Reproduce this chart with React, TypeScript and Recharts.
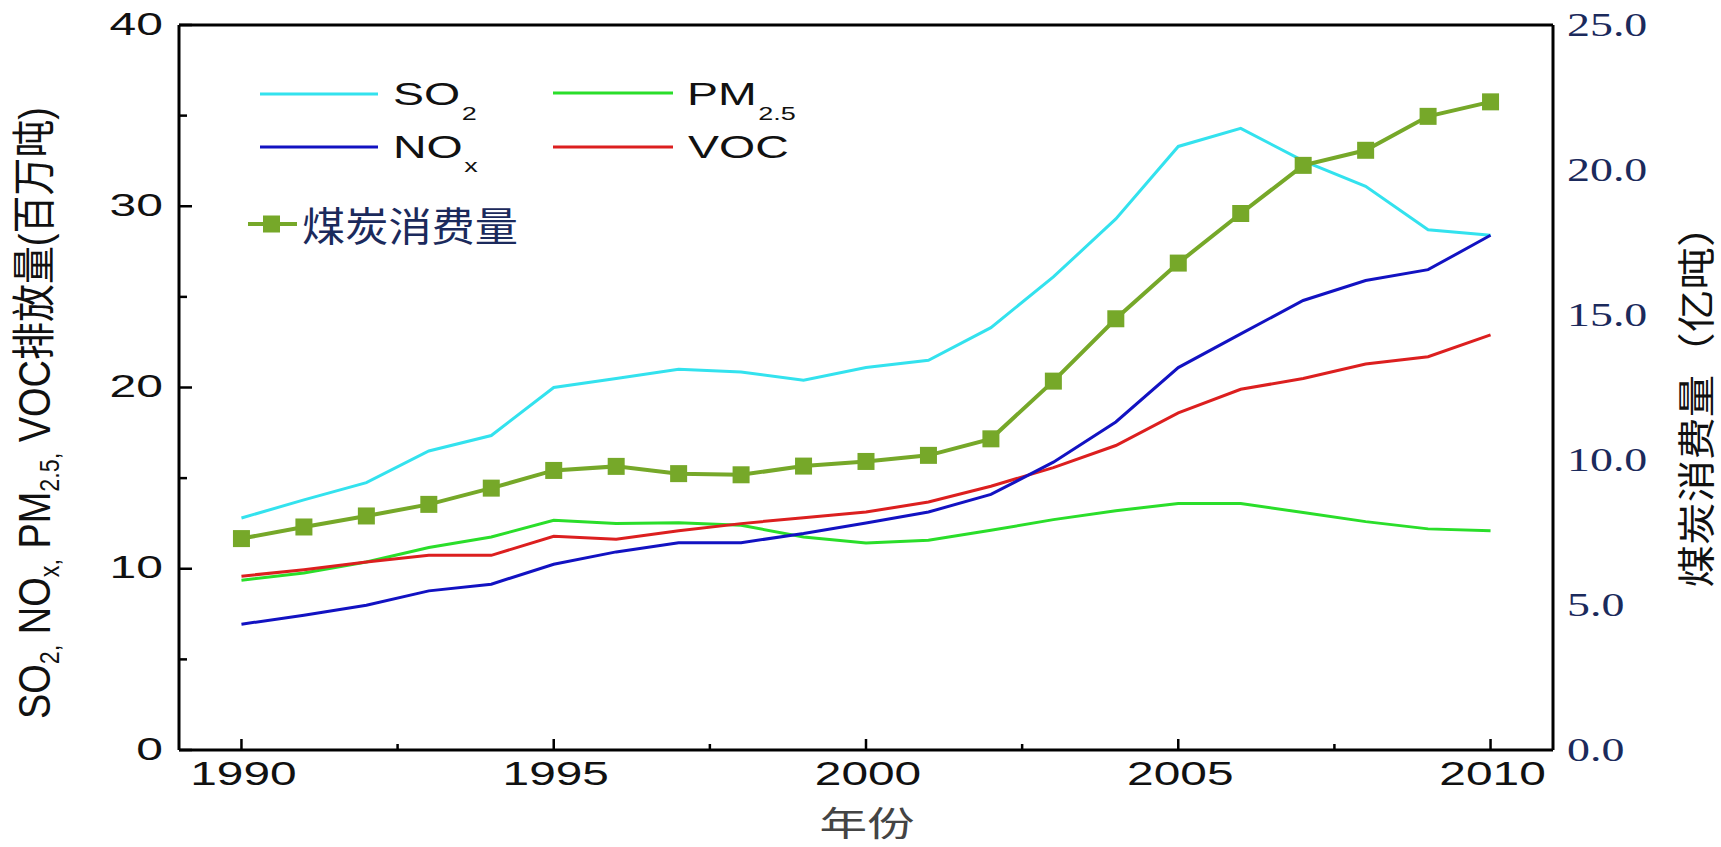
import React from 'react';
import { LineChart, Line, XAxis, YAxis, ReferenceLine, Legend } from 'recharts';

// values
const years = [1990, 1991, 1992, 1993, 1994, 1995, 1996, 1997, 1998, 1999, 2000, 2001, 2002, 2003, 2004, 2005, 2006, 2007, 2008, 2009, 2010];
const so2 = [12.8, 13.8, 14.75, 16.5, 17.35, 20.0, 20.5, 21.0, 20.85, 20.4, 21.1, 21.5, 23.3, 26.1, 29.3, 33.3, 34.3, 32.5, 31.1, 28.7, 28.4];
const nox = [6.94, 7.44, 7.99, 8.78, 9.15, 10.25, 10.93, 11.44, 11.44, 11.94, 12.52, 13.13, 14.1, 15.88, 18.1, 21.1, 22.96, 24.8, 25.9, 26.5, 28.4];
const pm25 = [9.37, 9.77, 10.37, 11.17, 11.75, 12.67, 12.49, 12.54, 12.4, 11.75, 11.42, 11.57, 12.12, 12.71, 13.2, 13.6, 13.6, 13.1, 12.6, 12.2, 12.1];
const voc = [9.59, 9.95, 10.37, 10.74, 10.74, 11.79, 11.63, 12.1, 12.49, 12.82, 13.13, 13.68, 14.55, 15.58, 16.8, 18.6, 19.9, 20.5, 21.3, 21.7, 22.9];
const coal = [7.29, 7.69, 8.07, 8.47, 9.03, 9.64, 9.78, 9.53, 9.49, 9.79, 9.95, 10.16, 10.73, 12.72, 14.87, 16.79, 18.5, 20.16, 20.68, 21.85, 22.35];

const yearTicks = [1990, 1992.5, 1995, 1997.5, 2000, 2002.5, 2005, 2007.5, 2010];
const leftTicks = [0, 5, 10, 15, 20, 25, 30, 35, 40];
const rightTicks = [0, 5, 10, 15, 20, 25];

const data = years.map((year, i) => ({
  year,
  so2: so2[i],
  nox: nox[i],
  pm25: pm25[i],
  voc: voc[i],
  coal: coal[i],
}));

const W = 1721;
const H = 847;
const PLOT_L = 179;
const PLOT_R = 1553;
const PLOT_B = 750;

const SANS = '"Liberation Sans", Arial, "Noto Sans CJK SC", sans-serif';
const SERIF = '"Liberation Serif", "Times New Roman", serif';
const CJK = '"Noto Sans CJK SC", "Liberation Sans", sans-serif';

const C_SO2 = '#33e2ee';
const C_NOX = '#1212c2';
const C_PM = '#2ade2a';
const C_VOC = '#dc1f1f';
const C_COAL = '#76a829';
const NAVY = '#1b2a5c';

const BottomTick = (props: any) => {
  const { x, payload } = props;
  const v = payload.value;
  const major = v % 5 === 0;
  return (
    <g>
      <line x1={x} x2={x} y1={PLOT_B} y2={PLOT_B - (major ? 11 : 6)} stroke="#000" strokeWidth={2.5} />
      {major && (
        <text
          transform={`translate(${x + 2},${PLOT_B + 35}) scale(1.45,1)`}
          textAnchor="middle"
          fontSize={33}
          fontFamily={SANS}
          fill="#111"
        >
          {v}
        </text>
      )}
    </g>
  );
};

const LeftTick = (props: any) => {
  const { y, payload } = props;
  const v = payload.value;
  const major = v % 10 === 0;
  return (
    <g>
      <line x1={PLOT_L} x2={PLOT_L + (major ? 13 : 8)} y1={y} y2={y} stroke="#000" strokeWidth={2.5} />
      {major && (
        <text
          transform={`translate(${PLOT_L - 16},${y + 9.5}) scale(1.5,1)`}
          textAnchor="end"
          fontSize={32}
          fontFamily={SANS}
          fill="#111"
        >
          {v}
        </text>
      )}
    </g>
  );
};

const RightTick = (props: any) => {
  const { y, payload } = props;
  return (
    <text
      transform={`translate(${PLOT_R + 14},${y + 11}) scale(1.35,1)`}
      textAnchor="start"
      fontSize={34}
      fontFamily={SERIF}
      fill={NAVY}
    >
      {payload.value.toFixed(1)}
    </text>
  );
};

const LeftTitle = () => (
  <text
    transform="translate(50,413) rotate(-90)"
    textAnchor="middle"
    fontSize={44}
    fontFamily={SANS}
    fill="#111"
    textLength={612}
    lengthAdjust="spacingAndGlyphs"
  >
    SO<tspan dy={9} fontSize={27}>2,</tspan>
    <tspan dy={-9}> NO</tspan><tspan dy={9} fontSize={27}>x,</tspan>
    <tspan dy={-9}> PM</tspan><tspan dy={9} fontSize={27}>2.5,</tspan>
    <tspan dy={-9}> VOC排放量(百万吨)</tspan>
  </text>
);

const RightTitle = () => (
  <text
    transform="translate(1694,396) rotate(-90) scale(1.12,1)"
    textAnchor="middle"
    dominantBaseline="central"
    fontSize={38}
    fontFamily={CJK}
    fill="#111"
  >
    煤炭消费量（亿吨）
  </text>
);

const XTitle = () => (
  <text
    transform="translate(867,836) scale(1.4,1)"
    textAnchor="middle"
    fontSize={34}
    fontFamily={CJK}
    fill="#444"
  >
    年份
  </text>
);

const SquareDot = (props: any) => {
  const { cx, cy, index } = props;
  return <rect key={`sq-${index}`} x={cx - 8.5} y={cy - 8.5} width={17} height={17} fill={C_COAL} />;
};

const LegendBox = () => (
  <svg width={W} height={H} style={{ position: 'absolute', left: 0, top: 0 }}>
    <g fontFamily={SANS} fill="#111" fontSize={31}>
      <line x1={260} x2={378} y1={94} y2={94} stroke={C_SO2} strokeWidth={3} />
      <text transform="translate(393,105) scale(1.5,1)">
        SO<tspan dx={1} dy={15} fontSize={18}>2</tspan>
      </text>
      <line x1={260} x2={378} y1={147} y2={147} stroke={C_NOX} strokeWidth={3} />
      <text transform="translate(393,158) scale(1.5,1)">
        NO<tspan dx={1} dy={14} fontSize={18}>x</tspan>
      </text>
      <line x1={553} x2={673} y1={93} y2={93} stroke={C_PM} strokeWidth={3} />
      <text transform="translate(687,105) scale(1.5,1)">
        PM<tspan dx={1} dy={15} fontSize={18}>2.5</tspan>
      </text>
      <line x1={553} x2={673} y1={147} y2={147} stroke={C_VOC} strokeWidth={3} />
      <text transform="translate(688,158) scale(1.5,1)">VOC</text>
    </g>
    <line x1={248} x2={297} y1={224} y2={224} stroke={C_COAL} strokeWidth={4} />
    <rect x={263} y={215.5} width={17} height={17} fill={C_COAL} />
    <text
      transform="translate(302,224) scale(1.08,1)"
      dominantBaseline="central"
      fontSize={40}
      fontFamily={CJK}
      fill={NAVY}
    >
      煤炭消费量
    </text>
  </svg>
);

export default function App() {
  return (
    <div style={{ position: 'absolute', left: 0, top: 0, width: W, height: H, background: '#fff' }}>
      <LineChart width={W} height={H} data={data} margin={{ top: 25, right: 48, bottom: 37, left: 69 }}>
        <XAxis
          dataKey="year"
          type="number"
          domain={[1989, 2011]}
          ticks={yearTicks}
          interval={0}
          height={60}
          tickLine={false}
          axisLine={{ stroke: '#000', strokeWidth: 3 }}
          tick={<BottomTick />}
          label={<XTitle />}
        />
        <YAxis
          yAxisId="left"
          domain={[0, 40]}
          ticks={leftTicks}
          interval={0}
          width={110}
          tickLine={false}
          axisLine={{ stroke: '#000', strokeWidth: 3 }}
          tick={<LeftTick />}
          label={<LeftTitle />}
        />
        <YAxis
          yAxisId="right"
          orientation="right"
          domain={[0, 25]}
          ticks={rightTicks}
          interval={0}
          width={120}
          tickLine={false}
          axisLine={{ stroke: '#000', strokeWidth: 3 }}
          tick={<RightTick />}
          label={<RightTitle />}
        />
        <ReferenceLine yAxisId="left" y={40} stroke="#000" strokeWidth={3} />
        <Legend
          layout="horizontal"
          verticalAlign="middle"
          align="center"
          content={<LegendBox />}
          wrapperStyle={{ left: 0, top: 0, width: W, height: H, pointerEvents: 'none' }}
        />
        <Line yAxisId="left" type="linear" dataKey="so2" name="SO2" stroke={C_SO2} strokeWidth={3} dot={false} isAnimationActive={false} />
        <Line yAxisId="left" type="linear" dataKey="pm25" name="PM2.5" stroke={C_PM} strokeWidth={3} dot={false} isAnimationActive={false} />
        <Line yAxisId="left" type="linear" dataKey="voc" name="VOC" stroke={C_VOC} strokeWidth={3} dot={false} isAnimationActive={false} />
        <Line yAxisId="left" type="linear" dataKey="nox" name="NOx" stroke={C_NOX} strokeWidth={3} dot={false} isAnimationActive={false} />
        <Line
          yAxisId="right"
          type="linear"
          dataKey="coal"
          name="煤炭消费量"
          stroke={C_COAL}
          strokeWidth={4}
          dot={<SquareDot />}
          isAnimationActive={false}
        />
      </LineChart>
    </div>
  );
}
